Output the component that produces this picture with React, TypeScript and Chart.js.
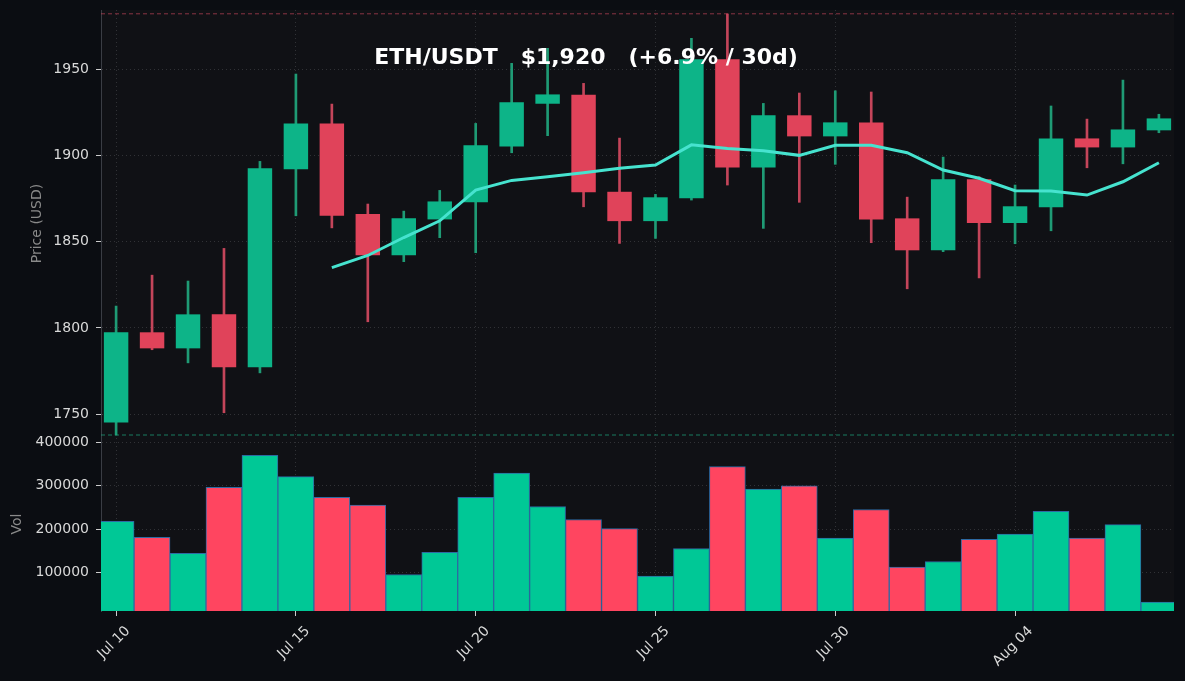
import React, { useEffect, useRef } from 'react';
import { Chart, registerables } from 'chart.js';

Chart.register(...registerables);

// ---- data ----
const dates = [
  'Jul 10', 'Jul 11', 'Jul 12', 'Jul 13', 'Jul 14', 'Jul 15', 'Jul 16', 'Jul 17', 'Jul 18', 'Jul 19',
  'Jul 20', 'Jul 21', 'Jul 22', 'Jul 23', 'Jul 24', 'Jul 25', 'Jul 26', 'Jul 27', 'Jul 28', 'Jul 29',
  'Jul 30', 'Jul 31', 'Aug 01', 'Aug 02', 'Aug 03', 'Aug 04', 'Aug 05', 'Aug 06', 'Aug 07', 'Aug 08',
];
const opens = [
  1745.3, 1797.5, 1788.2, 1807.9, 1777.2, 1891.9, 1918.5, 1866.0, 1842.2, 1862.9,
  1872.8, 1905.2, 1929.9, 1935.1, 1878.9, 1861.9, 1875.1, 1955.6, 1893.0, 1923.2,
  1911.0, 1919.1, 1863.5, 1845.0, 1886.1, 1860.8, 1869.9, 1909.8, 1904.6, 1914.5,
];
const highs = [
  1812.7, 1830.6, 1827.2, 1846.1, 1896.5, 1947.1, 1929.7, 1871.8, 1867.7, 1879.7,
  1918.5, 1953.3, 1962.0, 1941.7, 1910.0, 1877.4, 1967.8, 1981.9, 1930.1, 1936.1,
  1937.4, 1936.7, 1875.8, 1899.0, 1887.6, 1882.8, 1928.6, 1921.0, 1943.6, 1923.8,
];
const lows = [
  1738.0, 1787.4, 1779.8, 1750.9, 1774.0, 1865.0, 1858.0, 1803.6, 1838.4, 1852.3,
  1843.6, 1901.5, 1911.4, 1870.2, 1849.0, 1851.9, 1874.1, 1882.8, 1857.7, 1872.8,
  1894.8, 1849.4, 1822.7, 1844.2, 1829.0, 1848.8, 1856.3, 1892.8, 1895.1, 1913.1,
];
const closes = [
  1797.5, 1788.2, 1807.9, 1777.2, 1892.5, 1918.5, 1865.0, 1842.2, 1863.5, 1873.3,
  1905.8, 1930.7, 1935.3, 1878.6, 1861.9, 1875.7, 1955.6, 1893.0, 1923.2, 1911.0,
  1919.1, 1862.9, 1845.0, 1886.1, 1860.8, 1870.5, 1909.8, 1904.6, 1915.0, 1921.4,
];
const ma7 = [
  null, null, null, null, null, null, 1835.0, 1842.0, 1852.4, 1862.1,
  1879.9, 1885.5, 1887.6, 1889.9, 1892.5, 1894.4, 1906.1, 1904.0, 1902.7, 1900.0,
  1905.8, 1905.8, 1901.5, 1891.5, 1886.7, 1879.5, 1879.3, 1877.0, 1884.7, 1895.7,
];
const volumes = [
  218000, 181000, 144000, 296000, 370000, 321000, 273000, 255000, 95000, 146000,
  273000, 329000, 252000, 222000, 201000, 91000, 155000, 344000, 292000, 300000,
  179000, 245000, 112000, 125000, 176000, 188000, 241000, 179000, 210000, 31000,
];
const priceTicks = [1750, 1800, 1850, 1900, 1950];
const volTicks = [100000, 200000, 300000, 400000];
const dateTickIdx = [0, 5, 10, 15, 20, 25];
const MAX_HIGH = 1982;
const MIN_LOW = 1738;
const TITLE = 'ETH/USDT   $1,920   (+6.9% / 30d)';

// axis limits
const X_MIN = -0.42;
const X_MAX = 29.42;
const PRICE_MIN = 1736.85;
const PRICE_MAX = 1984.2;
const VOL_MIN = 10600;
const VOL_MAX = 412500;

const FONT = '"DejaVu Sans", "Liberation Sans", sans-serif';
const TICK_COLOR = '#d9d9d9';
const GRID_COLOR = 'rgba(255,255,255,0.14)';
const LABEL_COLOR = '#8a8a8a';

const fitY = (s: any) => {
  s.width = 101;
  s.paddingTop = 0;
  s.paddingBottom = 0;
};

export default function App() {
  const ref = useRef<HTMLCanvasElement>(null);

  useEffect(() => {
    if (!ref.current) return;
    Chart.defaults.font.family = FONT;
    const up = closes.map((c, i) => c >= opens[i]);

    const bgPlugin = {
      id: 'bgPlugin',
      beforeDraw(chart: any) {
        const { ctx, chartArea: a } = chart;
        ctx.save();
        ctx.fillStyle = '#0b0d12';
        ctx.fillRect(0, 0, chart.width, chart.height);
        ctx.fillStyle = '#101115';
        ctx.fillRect(a.left, a.top, a.right - a.left, a.bottom - a.top);
        ctx.restore();
      },
    };

    const overlayPlugin = {
      id: 'overlayPlugin',
      afterDraw(chart: any) {
        const { ctx } = chart;
        const xs = chart.scales.x;
        ctx.save();
        ctx.fillStyle = '#ffffff';
        ctx.font = `bold 22px ${FONT}`;
        ctx.textAlign = 'center';
        ctx.textBaseline = 'alphabetic';
        ctx.fillText(TITLE, 586, 64);

        ctx.font = `14px ${FONT}`;
        ctx.fillStyle = TICK_COLOR;
        for (const v of dateTickIdx) {
          const px = xs.getPixelForValue(v);
          const text = dates[v];
          const w = ctx.measureText(text).width;
          const half = ((w + 13.5) * Math.SQRT1_2) / 2;
          ctx.save();
          ctx.translate(px - 2, xs.top + 13 + half);
          ctx.rotate(-Math.PI / 4);
          ctx.textAlign = 'center';
          ctx.textBaseline = 'middle';
          ctx.fillText(text, 0, 0);
          ctx.restore();
        }
        ctx.restore();
      },
    };

    const chart = new Chart(ref.current, {
      type: 'bar',
      data: {
        datasets: [
          {
            type: 'line',
            label: 'MA7',
            xAxisID: 'x',
            yAxisID: 'y',
            data: ma7
              .map((v, i) => (v === null ? null : { x: i, y: v }))
              .filter((p) => p !== null) as any,
            borderColor: '#46e3cf',
            borderWidth: 3,
            pointRadius: 0,
            tension: 0,
            order: 0,
          },
          {
            type: 'line',
            label: 'max',
            xAxisID: 'x',
            yAxisID: 'y',
            data: [
              { x: X_MIN, y: MAX_HIGH },
              { x: X_MAX, y: MAX_HIGH },
            ] as any,
            borderColor: 'rgba(205,70,92,0.65)',
            borderWidth: 1,
            borderDash: [4, 3],
            pointRadius: 0,
            order: 0,
          },
          {
            type: 'line',
            label: 'min',
            xAxisID: 'x',
            yAxisID: 'y',
            data: [
              { x: X_MIN, y: MIN_LOW },
              { x: X_MAX, y: MIN_LOW },
            ] as any,
            borderColor: 'rgba(30,170,130,0.7)',
            borderWidth: 1,
            borderDash: [4, 3],
            pointRadius: 0,
            order: 0,
          },
          {
            type: 'bar',
            label: 'body',
            xAxisID: 'x',
            yAxisID: 'y',
            data: opens.map((o, i) => ({ x: i, y: [o, closes[i]] })) as any,
            backgroundColor: up.map((u) => (u ? '#0db488' : '#e0435a')),
            barPercentage: 0.68,
            categoryPercentage: 1,
            grouped: false,
            order: 1,
          },
          {
            type: 'bar',
            label: 'wick',
            xAxisID: 'x',
            yAxisID: 'y',
            data: lows.map((l, i) => ({ x: i, y: [l, highs[i]] })) as any,
            backgroundColor: up.map((u) => (u ? '#1f9b75' : '#c4455a')),
            barThickness: 2,
            grouped: false,
            order: 2,
          },
          {
            type: 'bar',
            label: 'vol',
            xAxisID: 'x',
            yAxisID: 'yVol',
            data: volumes.map((v, i) => ({ x: i, y: v })) as any,
            backgroundColor: up.map((u) => (u ? '#00c896' : '#ff4560')),
            borderColor: '#2d6aa3',
            borderWidth: { top: 1, left: 1, right: 1, bottom: 0 } as any,
            barPercentage: 1,
            categoryPercentage: 1,
            grouped: false,
            order: 3,
          },
        ],
      },
      options: {
        responsive: false,
        animation: false,
        devicePixelRatio: 1,
        layout: { padding: { top: 10, right: 11, left: 0, bottom: 0 } },
        plugins: {
          legend: { display: false },
          tooltip: { enabled: false },
          title: { display: false },
        },
        scales: {
          x: {
            type: 'linear',
            axis: 'x',
            min: X_MIN,
            max: X_MAX,
            offset: false,
            afterBuildTicks: (s: any) => {
              s.ticks = dateTickIdx.map((v) => ({ value: v }));
            },
            afterFit: (s: any) => {
              s.height = 70;
              s.paddingLeft = 0;
              s.paddingRight = 0;
            },
            ticks: { display: false },
            grid: {
              offset: false,
              color: GRID_COLOR,
              lineWidth: 1,
              drawTicks: true,
              tickLength: 5,
              tickColor: '#cccccc',
              tickBorderDash: [],
            },
            border: { display: false, dash: [1, 3] },
          } as any,
          y: {
            type: 'linear',
            axis: 'y',
            position: 'left',
            stack: 'main',
            stackWeight: 427,
            weight: 2,
            min: PRICE_MIN,
            max: PRICE_MAX,
            beginAtZero: false,
            afterBuildTicks: (s: any) => {
              s.ticks = priceTicks.map((v) => ({ value: v }));
            },
            afterFit: fitY,
            ticks: {
              color: TICK_COLOR,
              font: { size: 14 },
              padding: 7,
              callback: (v: any) => String(v),
            },
            grid: {
              color: GRID_COLOR,
              lineWidth: 1,
              tickLength: 5,
              tickColor: '#cccccc',
              tickBorderDash: [],
            },
            border: { display: true, color: '#3a3d44', width: 1, dash: [1, 3] },
            title: {
              display: true,
              text: 'Price (USD)',
              color: LABEL_COLOR,
              font: { size: 14 },
              padding: { top: 28.6, bottom: 0 },
            },
          } as any,
          yVol: {
            type: 'linear',
            axis: 'y',
            position: 'left',
            stack: 'main',
            stackWeight: 174,
            weight: 1,
            min: VOL_MIN,
            max: VOL_MAX,
            beginAtZero: false,
            afterBuildTicks: (s: any) => {
              s.ticks = volTicks.map((v) => ({ value: v }));
            },
            afterFit: fitY,
            ticks: {
              color: TICK_COLOR,
              font: { size: 14 },
              padding: 7,
              callback: (v: any) => String(v),
            },
            grid: {
              color: GRID_COLOR,
              lineWidth: 1,
              tickLength: 5,
              tickColor: '#cccccc',
              tickBorderDash: [],
            },
            border: { display: true, color: '#3a3d44', width: 1, dash: [1, 3] },
            title: {
              display: true,
              text: 'Vol',
              color: LABEL_COLOR,
              font: { size: 14 },
              padding: { top: 8.6, bottom: 0 },
            },
          } as any,
        },
      },
      plugins: [bgPlugin, overlayPlugin],
    } as any);

    return () => chart.destroy();
  }, []);

  return (
    <div
      style={{
        position: 'fixed',
        left: 0,
        top: 0,
        width: 1185,
        height: 681,
        background: '#0b0d12',
      }}
    >
      <canvas ref={ref} width={1185} height={681} style={{ display: 'block' }} />
    </div>
  );
}
